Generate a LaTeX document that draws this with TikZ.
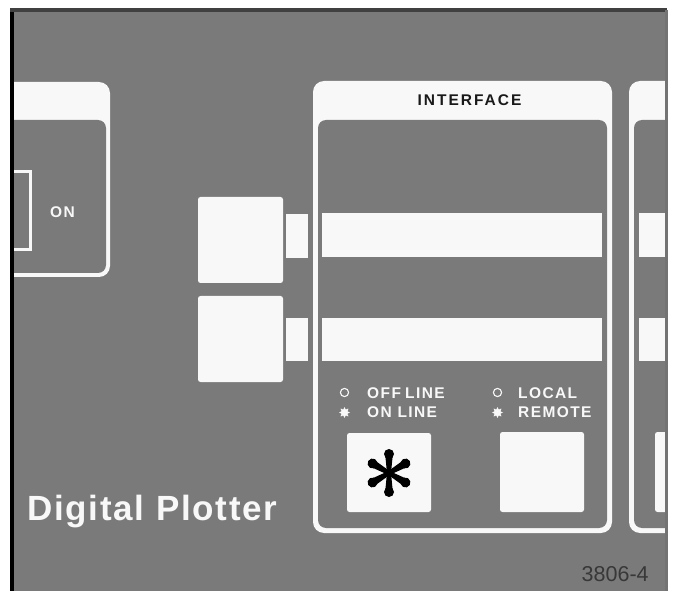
\documentclass[tikz,border=0pt]{standalone}
\usepackage{fontspec}
\setmainfont{Liberation Sans}
\usetikzlibrary{shapes.geometric}
\definecolor{panel}{HTML}{7A7A7A}
\definecolor{ink}{HTML}{F8F8F8}
\definecolor{numgray}{HTML}{383838}
\tikzset{
  whitebox/.style={fill=ink, rounded corners=2.5},
  frameout/.style={fill=ink, rounded corners=11},
  framein/.style={fill=panel, rounded corners=8},
  lbl/.style={text=ink, inner sep=0, font=\fontsize{15.5}{16}\selectfont\bfseries\addfontfeatures{LetterSpace=9}},
  ledoff/.style={draw=ink, line width=1.1, fill=none},
  ledon/.style={star, star points=8, star point ratio=1.7, fill=ink, draw=none, minimum size=11, inner sep=0}
}
\begin{document}
\begin{tikzpicture}[x=1pt,y=-1pt]
\useasboundingbox (0,0) rectangle (673,591);
\fill[white] (0,0) rectangle (673,591);
% front panel
\fill[panel] (12,10) rectangle (667,591);
\begin{scope}
\clip (14,12) rectangle (665.5,591);
% power section (partly cut off at the left)
\fill[frameout] (-30,82) rectangle (110,277);
\fill[framein] (-30,120) rectangle (106,273);
\draw[ink, line width=3] (-5,171.5) rectangle (30.5,249.5);
% connector blocks between sections
\fill[whitebox] (198,197) rectangle (283,283);
\fill[ink] (286,214) rectangle (308,258);
\fill[whitebox] (198,296) rectangle (283,382);
\fill[ink] (286,318) rectangle (308,361);
% interface section
\fill[frameout] (313,81) rectangle (612,533);
\fill[framein] (318,120) rectangle (607,528);
\fill[ink] (322,213) rectangle (602,257);
\fill[ink] (322,318) rectangle (602,361);
\fill[whitebox] (347,433) rectangle (431,512);
\fill[whitebox] (500,432) rectangle (584,512);
% next section (partly cut off at the right)
\fill[frameout] (629,81) rectangle (720,533);
\fill[framein] (634,120) rectangle (720,528);
\fill[ink] (639,213) rectangle (700,257);
\fill[ink] (639,318) rectangle (700,361);
\fill[whitebox] (655,432) rectangle (700,512);
\end{scope}
% panel edges
\fill[black] (10,10) rectangle (14,591);
\fill[black!75] (10,8) rectangle (667,12);
\fill[black!55] (665,10) rectangle (667.5,591);

% labels
\node[lbl] (on) at (62.5,212) {ON};
\node[inner sep=0, font=\fontsize{15.5}{18}\selectfont\bfseries\addfontfeatures{LetterSpace=13}, text=black!90] (title) at (469.5,100) {INTERFACE};

\draw[ledoff] (344.5,392.5) circle (4.1);
\node[ledon] (ledA) at (344.5,412.5) {};
\node[lbl, anchor=west] (offline) at (367,393) {OFF\kern-1.5pt\ LINE};
\node[lbl, anchor=west] (online) at (367,412.5) {ON LINE};

\draw[ledoff] (497.5,392.5) circle (4.1);
\node[ledon] (ledB) at (497.5,412.5) {};
\node[lbl, anchor=west] (local) at (518,393) {LOCAL};
\node[lbl, anchor=west] (remote) at (518,412.5) {REMOTE};

% asterisk key legend
\begin{scope}[shift={(389,473)}]
  \fill[black] (0,0) circle (3.6);
  \foreach \a in {90,30,-30,-90,150,210} {
    \fill[black, rotate=\a] (0,2.0) -- (18.5,3.8) arc (90:-90:4.6 and 3.8) -- (0,-2.0) -- cycle;
    \fill[black, rotate=\a] (19,0) circle (5);
  }
\end{scope}

\node[anchor=base west, inner sep=0, text=ink, font=\fontsize{35}{40}\selectfont\bfseries\addfontfeatures{LetterSpace=5}] (name) at (27,520) {Digital Plotter};
\node[anchor=base west, inner sep=0, text=numgray, font=\fontsize{21.5}{24}\selectfont] (fig) at (581.5,581) {3806-4};
\end{tikzpicture}
\end{document}
